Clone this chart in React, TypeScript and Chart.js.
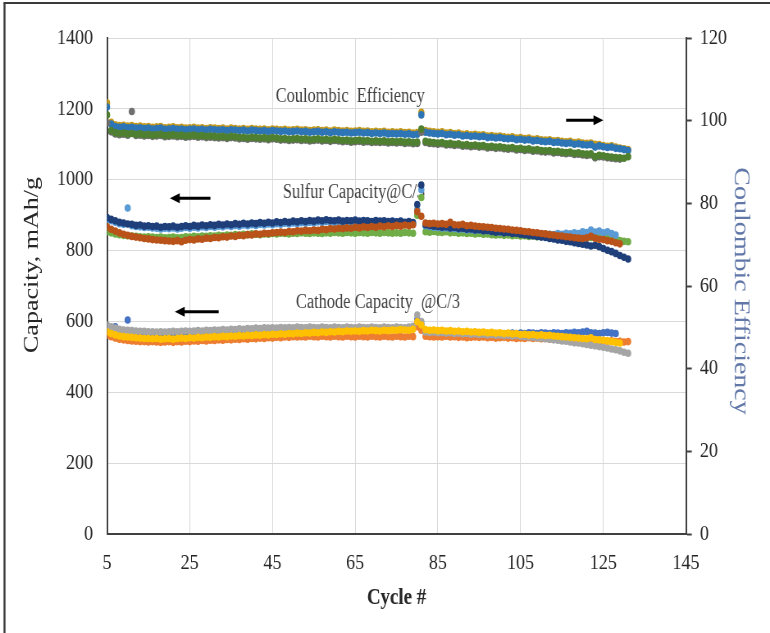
import React, { useEffect, useRef } from 'react';
import { Chart, registerables } from 'chart.js';
Chart.register(...registerables);

// ---------- data ----------
const cycles = [
  5, 6, 7, 8, 9, 10, 11, 12, 13, 14,
  15, 16, 17, 18, 19, 20, 21, 22, 23, 24,
  25, 26, 27, 28, 29, 30, 31, 32, 33, 34,
  35, 36, 37, 38, 39, 40, 41, 42, 43, 44,
  45, 46, 47, 48, 49, 50, 51, 52, 53, 54,
  55, 56, 57, 58, 59, 60, 61, 62, 63, 64,
  65, 66, 67, 68, 69, 70, 71, 72, 73, 74,
  75, 76, 77, 78, 79, 80, 81, 82, 83, 84,
  85, 86, 87, 88, 89, 90, 91, 92, 93, 94,
  95, 96, 97, 98, 99, 100, 101, 102, 103, 104,
  105, 106, 107, 108, 109, 110, 111, 112, 113, 114,
  115, 116, 117, 118, 119, 120, 121, 122, 123, 124,
  125, 126, 127, 128, 129, 130, 131,
];

// Coulombic efficiency (%), right axis
const ceGold = [
  104.3, 99.6, 99.0, 98.8, 98.9, 98.7, 98.8, 98.6, 98.7, 98.5,
  98.6, 98.4, 98.5, 98.6, 98.3, 98.4, 98.5, 98.3, 98.4, 98.2,
  98.3, 98.4, 98.2, 98.3, 98.1, 98.3, 98.2, 98.1, 98.2, 98.0,
  98.2, 98.1, 98.0, 98.1, 97.9, 98.1, 98.0, 97.9, 98.0, 97.8,
  98.0, 97.9, 97.8, 97.9, 97.7, 97.8, 97.9, 97.7, 97.8, 97.6,
  97.7, 97.8, 97.6, 97.7, 97.5, 97.7, 97.6, 97.5, 97.6, 97.4,
  97.5, 97.6, 97.4, 97.5, 97.3, 97.4, 97.3, 97.4, 97.2, 97.3,
  97.2, 97.3, 97.1, 97.2, 97.0, 97.1, 102.0, 97.6, 97.4, 97.3,
  97.2, 97.3, 97.0, 97.1, 96.9, 97.0, 96.7, 96.8, 96.6, 96.7,
  96.5, 96.6, 96.3, 96.4, 96.2, 96.3, 96.1, 96.0, 96.1, 95.8,
  95.9, 95.7, 95.8, 95.5, 95.6, 95.4, 95.3, 95.4, 95.1, 95.2,
  95.0, 94.9, 95.0, 94.7, 94.8, 94.6, 94.5, 94.6, 94.3, 94.2,
  94.0, 93.8, 93.9, 93.6, 93.4, 93.2, 93.0,
];
const ceBlue = [
  103.3, 99.2, 98.6, 98.4, 98.5, 98.3, 98.4, 98.2, 98.3, 98.1,
  98.2, 98.0, 98.1, 98.2, 97.9, 98.0, 98.1, 97.9, 98.0, 97.8,
  97.9, 98.0, 97.8, 97.9, 97.7, 97.9, 97.8, 97.7, 97.8, 97.6,
  97.8, 97.7, 97.6, 97.7, 97.5, 97.7, 97.6, 97.5, 97.6, 97.4,
  97.6, 97.5, 97.4, 97.5, 97.3, 97.4, 97.5, 97.3, 97.4, 97.2,
  97.3, 97.4, 97.2, 97.3, 97.1, 97.3, 97.2, 97.1, 97.2, 97.0,
  97.1, 97.2, 97.0, 97.1, 96.9, 97.0, 96.9, 97.0, 96.8, 96.9,
  96.8, 96.9, 96.7, 96.8, 96.6, 96.7, 101.4, 97.2, 97.0, 96.9,
  96.8, 96.9, 96.6, 96.7, 96.5, 96.6, 96.3, 96.4, 96.2, 96.3,
  96.1, 96.2, 95.9, 96.0, 95.8, 95.9, 95.7, 95.6, 95.7, 95.4,
  95.5, 95.3, 95.4, 95.1, 95.2, 95.0, 94.9, 95.0, 94.7, 94.8,
  94.6, 94.5, 94.6, 94.3, 94.4, 94.2, 94.1, 94.2, 93.6, 93.9,
  93.7, 93.5, 93.6, 93.3, 93.2, 93.0, 92.8,
];
const ceGreen = [
  101.4, 97.6, 97.1, 96.9, 97.0, 96.8, 96.9, 96.7, 96.8, 96.6,
  96.7, 96.5, 96.6, 96.7, 96.4, 96.5, 96.6, 96.4, 96.5, 96.3,
  96.4, 96.5, 96.3, 96.4, 96.2, 96.3, 96.2, 96.1, 96.2, 96.0,
  96.2, 96.1, 95.9, 96.0, 95.8, 96.0, 95.9, 95.8, 95.9, 95.7,
  95.9, 95.8, 95.6, 95.7, 95.5, 95.6, 95.7, 95.5, 95.6, 95.4,
  95.5, 95.6, 95.4, 95.5, 95.3, 95.5, 95.4, 95.2, 95.3, 95.1,
  95.2, 95.3, 95.1, 95.2, 95.0, 95.1, 95.0, 95.1, 94.9, 95.0,
  94.9, 95.0, 94.8, 94.9, 94.7, 94.8, 98.0, 95.0, 94.8, 94.7,
  94.6, 94.7, 94.4, 94.5, 94.3, 94.4, 94.1, 94.2, 94.0, 94.1,
  93.9, 94.0, 93.7, 93.8, 93.6, 93.7, 93.5, 93.4, 93.5, 93.2,
  93.3, 93.1, 93.2, 92.9, 93.0, 92.8, 92.7, 92.8, 92.5, 92.6,
  92.4, 92.3, 92.4, 92.1, 92.2, 92.0, 91.9, 92.0, 91.3, 91.6,
  91.5, 91.3, 91.2, 91.1, 91.0, 90.9, 91.3,
];
const ceGrey = [
  99.5, 97.3, 96.8, 96.6, 96.7, 96.5, 102.2, 96.4, 96.5, 96.3,
  96.4, 96.2, 96.3, 96.4, 96.1, 96.2, 96.3, 96.1, 96.2, 96.0,
  96.1, 96.2, 96.0, 96.1, 95.9, 96.0, 95.9, 95.8, 95.9, 95.7,
  95.9, 95.8, 95.6, 95.7, 95.5, 95.7, 95.6, 95.5, 95.6, 95.4,
  95.6, 95.5, 95.3, 95.4, 95.2, 95.3, 95.4, 95.2, 95.3, 95.1,
  95.2, 95.3, 95.1, 95.2, 95.0, 95.2, 95.1, 94.9, 95.0, 94.8,
  94.9, 95.0, 94.8, 94.9, 94.7, 94.8, 94.7, 94.8, 94.6, 94.7,
  94.6, 94.7, 94.5, 94.6, 94.4, 94.5, 97.2, 94.7, 94.5, 94.4,
  94.3, 94.4, 94.1, 94.2, 94.0, 94.1, 93.8, 93.9, 93.7, 93.8,
  93.6, 93.7, 93.4, 93.5, 93.3, 93.4, 93.2, 93.1, 93.2, 92.9,
  93.0, 92.8, 92.9, 92.6, 92.7, 92.5, 92.4, 92.5, 92.2, 92.3,
  92.1, 92.0, 92.1, 91.8, 91.9, 91.7, 91.6, 91.7, 91.0, 91.3,
  91.2, 91.0, 90.9, 90.8, 90.7, null, null,
];

// Sulfur capacity @C/3 (mAh/g), left axis
const sulfurNavy = [
  893, 888, 884, 880, 878, 875, 874, 871, 872, 869,
  870, 868, 869, 866, 868, 867, 869, 866, 868, 870,
  868, 871, 869, 872, 870, 873, 871, 874, 872, 875,
  873, 876, 874, 877, 875, 878, 876, 879, 877, 880,
  878, 881, 879, 882, 880, 883, 881, 884, 882, 885,
  883, 886, 884, 887, 885, 884, 886, 883, 885, 884,
  886, 883, 885, 884, 882, 885, 883, 884, 882, 883,
  881, 883, 880, 882, 879, 930, 985, 873, 871, 869,
  868, 866, 867, 864, 865, 862, 863, 860, 861, 858,
  859, 856, 857, 854, 852, 853, 850, 851, 848, 849,
  846, 845, 843, 842, 840, 838, 837, 834, 833, 830,
  829, 826, 825, 822, 820, 818, 816, 813, 815, 811,
  806, 801, 797, 792, 786, 781, 776,
];
const sulfurSky = [
  888, 884, 880, 876, 874, 920, 870, 868, 867, 865,
  866, 864, 863, 861, 863, 862, 864, 861, 863, 865,
  863, 866, 864, 867, 865, 868, 866, 869, 867, 870,
  868, 871, 869, 872, 870, 873, 871, 874, 872, 875,
  873, 876, 874, 877, 875, 878, 876, 879, 877, 880,
  878, 881, 879, 882, 880, 879, 881, 878, 880, 879,
  881, 878, 880, 879, 877, 880, 878, 879, 877, 878,
  876, 878, 875, 877, 874, 915, 972, 870, 868, 866,
  865, 864, 864, 862, 862, 860, 861, 858, 859, 857,
  858, 856, 856, 854, 854, 852, 853, 851, 851, 850,
  850, 849, 849, 848, 847, 847, 846, 846, 845, 848,
  846, 849, 847, 850, 848, 853, 851, 858, 852, 855,
  850, 853, 848, 844, null, null, null,
];
const sulfurRust = [
  867, 860, 855, 850, 846, 843, 840, 838, 836, 834,
  833, 831, 830, 829, 828, 827, 826, 828, 825, 829,
  831, 830, 833, 832, 835, 834, 837, 836, 839, 838,
  841, 840, 843, 842, 845, 844, 847, 846, 849, 848,
  850, 851, 852, 851, 854, 853, 856, 855, 857, 856,
  858, 857, 860, 859, 862, 861, 863, 862, 864, 863,
  866, 864, 867, 865, 868, 866, 869, 867, 870, 868,
  871, 869, 872, 870, 873, 910, 897, 878, 876, 877,
  875, 876, 874, 880, 873, 872, 874, 870, 871, 869,
  868, 867, 866, 865, 863, 862, 861, 860, 858, 857,
  856, 854, 853, 851, 850, 848, 847, 845, 844, 842,
  841, 839, 838, 836, 835, 834, 836, 840, 835, 832,
  831, 828, 826, 822, 819, null, null,
];
const sulfurGreen = [
  853, 850, 847, 845, 843, 842, 841, 840, 839, 838,
  839, 838, 837, 838, 836, 837, 838, 836, 837, 839,
  838, 840, 839, 841, 840, 842, 841, 843, 842, 844,
  843, 845, 844, 846, 845, 847, 846, 845, 847, 846,
  848, 847, 849, 848, 847, 849, 848, 850, 849, 848,
  850, 849, 848, 850, 849, 851, 850, 849, 851, 850,
  849, 851, 850, 849, 851, 850, 849, 851, 850, 849,
  850, 849, 851, 850, 849, 900, 950, 853, 852, 854,
  852, 851, 853, 850, 851, 849, 850, 848, 849, 847,
  848, 846, 847, 845, 844, 845, 843, 844, 842, 843,
  841, 842, 840, 841, 839, 840, 838, 839, 837, 838,
  837, 838, 836, 837, 836, 839, 838, 837, 838, 836,
  835, 834, 832, 830, 828, 826, 825,
];

// Cathode capacity @C/3 (mAh/g), left axis
const cathodeGrey = [
  590, 585, 581, 578, 576, 575, 574, 573, 572, 572,
  571, 571, 570, 571, 570, 571, 572, 571, 572, 573,
  572, 573, 574, 573, 575, 574, 576, 575, 577, 576,
  578, 577, 579, 578, 580, 579, 581, 580, 582, 581,
  582, 581, 583, 582, 583, 582, 584, 583, 582, 584,
  583, 582, 584, 583, 582, 584, 583, 582, 584, 583,
  582, 584, 583, 582, 584, 583, 582, 584, 583, 582,
  584, 583, 582, 584, 586, 618, 600, 570, 569, 570,
  568, 569, 567, 568, 566, 567, 565, 566, 564, 565,
  563, 564, 562, 563, 561, 562, 560, 561, 559, 560,
  558, 557, 556, 555, 554, 553, 551, 550, 548, 547,
  545, 544, 542, 540, 539, 537, 535, 533, 531, 529,
  527, 525, 522, 520, 517, 513, 510,
];
const cathodeYellow = [
  571, 566, 562, 559, 557, 556, 555, 554, 553, 552,
  552, 551, 552, 550, 551, 552, 550, 552, 553, 552,
  554, 553, 555, 554, 556, 555, 557, 556, 558, 557,
  559, 558, 560, 559, 561, 560, 562, 561, 563, 562,
  564, 563, 565, 564, 566, 565, 567, 566, 568, 567,
  569, 568, 570, 569, 571, 570, 572, 571, 573, 572,
  573, 572, 574, 573, 575, 574, 573, 575, 574, 576,
  575, 577, 576, 575, 578, 599, 590, 577, 575, 576,
  574, 575, 573, 574, 572, 573, 571, 572, 570, 571,
  569, 570, 568, 569, 567, 568, 566, 567, 565, 566,
  563, 564, 562, 563, 561, 562, 560, 561, 559, 558,
  557, 556, 555, 554, 553, 552, 551, 554, 549, 548,
  547, 545, 543, 541, 539, null, null,
];
const cathodeOrange = [
  562, 557, 553, 550, 548, 546, 545, 544, 543, 543,
  542, 543, 542, 541, 542, 543, 541, 543, 542, 544,
  543, 545, 544, 546, 545, 547, 546, 548, 547, 549,
  548, 550, 549, 551, 550, 552, 551, 553, 552, 554,
  553, 555, 554, 556, 555, 557, 556, 557, 556, 558,
  557, 556, 558, 557, 556, 558, 557, 556, 558, 557,
  556, 558, 557, 556, 558, 557, 556, 558, 557, 556,
  558, 557, 556, 558, 557, 585, 575, 558, 557, 556,
  557, 556, 558, 556, 557, 555, 556, 554, 555, 556,
  555, 556, 554, 555, 553, 554, 555, 553, 554, 552,
  553, 552, 554, 552, 553, 551, 552, 550, 551, 549,
  550, 548, 549, 547, 548, 546, 547, 549, 546, 545,
  546, 544, 545, 543, 544, 542, 543,
];
const cathodeBlue = [
  582, 580, 585, 576, 574, 604, 572, 570, 569, 568,
  568, 567, 568, 566, 567, 568, 566, 568, 569, 568,
  569, 568, 570, 569, 571, 570, 572, 571, 573, 572,
  573, 572, 574, 573, 575, 574, 576, 575, 577, 576,
  577, 576, 578, 577, 579, 578, 580, 579, 578, 579,
  578, 579, 580, 579, 578, 580, 579, 578, 580, 579,
  578, 580, 579, 578, 580, 579, 578, 580, 579, 578,
  579, 578, 580, 579, 581, 605, 592, 572, 571, 570,
  569, 570, 568, 569, 567, 568, 566, 567, 565, 566,
  565, 566, 564, 565, 564, 566, 565, 566, 567, 566,
  567, 566, 568, 567, 566, 568, 567, 566, 568, 567,
  566, 568, 567, 569, 568, 570, 572, 568, 567, 566,
  568, 569, 567, 566, null, null, null,
];

const xTicks = [5, 25, 45, 65, 85, 105, 125, 145];
const capacityTicks = [0, 200, 400, 600, 800, 1000, 1200, 1400];
const ceTicks = [0, 20, 40, 60, 80, 100, 120];

const noteTexts = ['Coulombic  Efficiency', 'Sulfur Capacity@C/3', 'Cathode Capacity  @C/3'];
const noteCycle = [63.8, 64.7, 70.5];
const noteCapacity = [1233, 962, 652];

const arrowTailCycle = [116, 30, 32];
const arrowHeadCycle = [125, 20.2, 21.4];
const arrowCapacity = [1168, 948, 627];

const leftTitle = 'Capacity, mAh/g';
const rightTitle = 'Coulombic Efficiency';

// ---------- layout ----------
const DISPLAY_W = 770;
const DISPLAY_H = 633;
const SQUEEZE = 0.82;
const W = Math.round(DISPLAY_W / SQUEEZE);
const H = DISPLAY_H;
const SERIF = '"Liberation Serif", "Times New Roman", serif';

function series(values: (number | null)[]) {
  return cycles.map((c, i) => ({ x: c, y: values[i] }));
}

function ds(label: string, values: (number | null)[], color: string, axis: string, order: number) {
  return {
    label,
    data: series(values),
    yAxisID: axis,
    backgroundColor: color,
    borderColor: color,
    pointRadius: 3.8,
    pointBorderWidth: 0,
    pointHoverRadius: 3.8,
    showLine: false,
    order,
  };
}

const overlay = {
  id: 'overlay',
  beforeDraw(chart: any) {
    const ctx = chart.ctx;
    ctx.save();
    ctx.fillStyle = '#ffffff';
    ctx.fillRect(0, 0, chart.width, chart.height);
    ctx.strokeStyle = '#3a3a3a';
    ctx.lineWidth = 2.4;
    ctx.beginPath();
    ctx.moveTo(5.5, chart.height);
    ctx.lineTo(5.5, 3);
    ctx.stroke();
    ctx.lineWidth = 2;
    ctx.beginPath();
    ctx.moveTo(4.3, 3);
    ctx.lineTo(chart.width, 3);
    ctx.stroke();
    ctx.restore();
  },
  afterDraw(chart: any) {
    const ctx = chart.ctx;
    ctx.save();
    ctx.textAlign = 'center';
    ctx.textBaseline = 'middle';
    // left axis title
    ctx.font = `26px ${SERIF}`;
    ctx.fillStyle = '#262626';
    ctx.translate(39, 265);
    ctx.rotate(-Math.PI / 2);
    ctx.fillText(leftTitle, 0, 0);
    ctx.restore();
    ctx.save();
    ctx.textAlign = 'center';
    ctx.textBaseline = 'middle';
    ctx.font = `28px ${SERIF}`;
    ctx.fillStyle = '#6077a8';
    ctx.translate(903, 291);
    ctx.rotate(Math.PI / 2);
    ctx.fillText(rightTitle, 0, 0);
    ctx.restore();
  },
  beforeDatasetsDraw(chart: any) {
    const ctx = chart.ctx;
    const xs = chart.scales.x;
    const ys = chart.scales.y;
    ctx.save();
    ctx.font = `20px ${SERIF}`;
    ctx.fillStyle = '#404040';
    ctx.textAlign = 'center';
    ctx.textBaseline = 'middle';
    noteTexts.forEach((t, i) => {
      ctx.fillText(t, xs.getPixelForValue(noteCycle[i]), ys.getPixelForValue(noteCapacity[i]));
    });
    ctx.strokeStyle = '#000000';
    ctx.fillStyle = '#000000';
    ctx.lineWidth = 3;
    arrowTailCycle.forEach((tail, i) => {
      const x1 = xs.getPixelForValue(tail);
      const x2 = xs.getPixelForValue(arrowHeadCycle[i]);
      const yy = ys.getPixelForValue(arrowCapacity[i]);
      const dir = x2 > x1 ? 1 : -1;
      const headLen = 12;
      ctx.beginPath();
      ctx.moveTo(x1, yy);
      ctx.lineTo(x2 - dir * headLen * 0.6, yy);
      ctx.stroke();
      ctx.beginPath();
      ctx.moveTo(x2, yy);
      ctx.lineTo(x2 - dir * headLen, yy - 5);
      ctx.lineTo(x2 - dir * headLen, yy + 5);
      ctx.closePath();
      ctx.fill();
    });
    ctx.restore();
  },
};

export default function App() {
  const ref = useRef<HTMLCanvasElement>(null);
  useEffect(() => {
    const canvas = ref.current;
    if (!canvas) return;
    const tickFont = { family: SERIF, size: 22 };
    const axisColor = '#404040';
    const plain = (v: any) => String(v);
    const chart = new Chart(canvas, {
      type: 'scatter',
      data: {
        datasets: [
          ds('CE gold', ceGold, '#c49a1e', 'y2', 8),
          ds('CE blue', ceBlue, '#2e75b6', 'y2', 7),
          ds('CE green', ceGreen, '#4f7f30', 'y2', 5),
          ds('CE grey', ceGrey, '#6f6f6f', 'y2', 6),
          ds('Sulfur rust', sulfurRust, '#b9531a', 'y', 10),
          ds('Sulfur navy', sulfurNavy, '#1f3f7a', 'y', 11),
          ds('Sulfur sky', sulfurSky, '#5b9bd5', 'y', 12),
          ds('Sulfur green', sulfurGreen, '#70ad47', 'y', 13),
          ds('Cathode yellow', cathodeYellow, '#ffc000', 'y', 20),
          ds('Cathode grey', cathodeGrey, '#a5a5a5', 'y', 21),
          ds('Cathode orange', cathodeOrange, '#ed7d31', 'y', 22),
          ds('Cathode blue', cathodeBlue, '#4472c4', 'y', 23),
        ] as any,
      },
      options: {
        responsive: false,
        devicePixelRatio: 1,
        animation: false,
        events: [],
        layout: { padding: { top: 38, left: 0, right: 0, bottom: 0 } },
        plugins: {
          legend: { display: false },
          tooltip: { enabled: false },
          title: { display: false },
        },
        scales: {
          x: {
            type: 'linear',
            min: 5,
            max: 145,
            afterBuildTicks: (s: any) => { s.ticks = xTicks.map((v) => ({ value: v })); },
            afterFit: (s: any) => { s.height = 99; },
            grid: { color: '#d9d9d9', lineWidth: 1, drawTicks: false },
            border: { color: axisColor, width: 2 },
            ticks: { font: tickFont, color: '#262626', padding: 16, maxRotation: 0, autoSkip: false, callback: plain },
            title: {
              display: true,
              text: 'Cycle #',
              color: '#262626',
              font: { family: SERIF, size: 23, weight: 'bold' },
              padding: { top: 0, bottom: 21 },
            },
          },
          y: {
            type: 'linear',
            position: 'left',
            min: 0,
            max: 1400,
            afterBuildTicks: (s: any) => { s.ticks = capacityTicks.map((v) => ({ value: v })); },
            afterFit: (s: any) => { s.width = 130.5; },
            grid: { color: '#d9d9d9', lineWidth: 1, drawTicks: false },
            border: { color: axisColor, width: 2 },
            ticks: { font: tickFont, color: '#262626', padding: 17, callback: plain },
            title: { display: false },
          },
          y2: {
            type: 'linear',
            position: 'right',
            min: 0,
            max: 120,
            afterBuildTicks: (s: any) => { s.ticks = ceTicks.map((v) => ({ value: v })); },
            afterFit: (s: any) => { s.width = W - 836.6; },
            grid: { drawOnChartArea: false, drawTicks: true, tickLength: 7, color: axisColor, tickColor: axisColor, tickWidth: 2 },
            border: { color: axisColor, width: 2 },
            ticks: { font: tickFont, color: '#262626', padding: 10, callback: plain },
            title: { display: false },
          },
        },
      } as any,
      plugins: [overlay],
    });
    return () => chart.destroy();
  }, []);

  return (
    <div style={{ position: 'fixed', left: 0, top: 0, width: DISPLAY_W, height: DISPLAY_H, background: '#fff' }}>
      <canvas
        ref={ref}
        width={W}
        height={H}
        style={{ width: `${DISPLAY_W}px`, height: `${DISPLAY_H}px`, display: 'block' }}
      />
    </div>
  );
}
